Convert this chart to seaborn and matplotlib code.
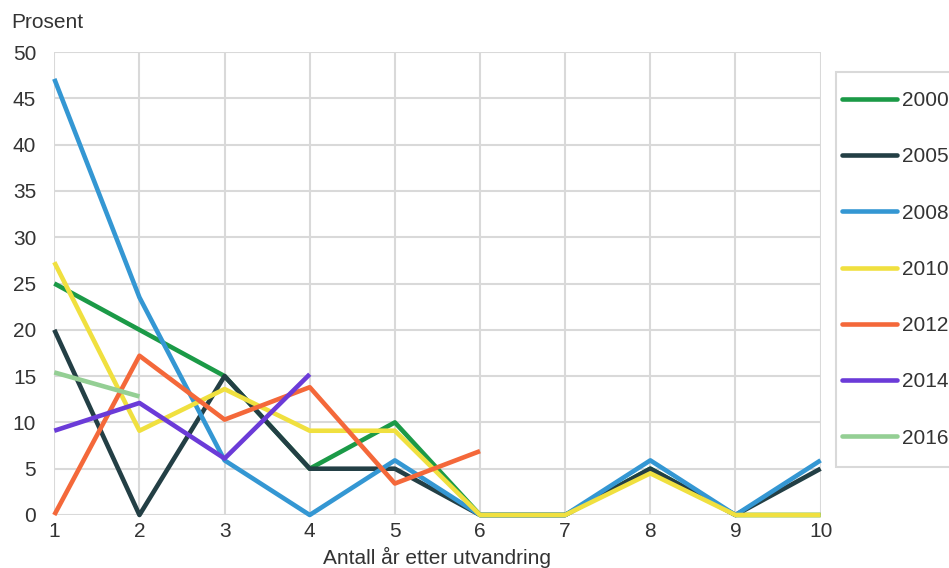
import pandas as pd
import numpy as np
import matplotlib.pyplot as plt
import seaborn as sns
from matplotlib.patches import Rectangle

# Data (percent)
years_after = [1, 2, 3, 4, 5, 6, 7, 8, 9, 10]
cohorts = ['2000', '2005', '2008', '2010', '2012', '2014', '2016']
v2000 = [25.0, 20.0, 15.0, 5.0, 10.0, 0.0, 0.0, 5.0, 0.0, 0.0]
v2005 = [20.0, 0.0, 15.0, 5.0, 5.0, 0.0, 0.0, 5.0, 0.0, 5.0]
v2008 = [47.1, 23.5, 5.9, 0.0, 5.9, 0.0, 0.0, 5.9, 0.0, 5.9]
v2010 = [27.3, 9.1, 13.6, 9.1, 9.1, 0.0, 0.0, 4.5, 0.0, 0.0]
v2012 = [0.0, 17.2, 10.3, 13.8, 3.4, 6.9]
v2014 = [9.1, 12.1, 6.1, 15.2]
v2016 = [15.4, 12.8]
colors = ['#1b9a47', '#233f45', '#3497d3', '#f0e03f', '#f4683a', '#6b3bd8', '#94cf94']

series = [v2000, v2005, v2008, v2010, v2012, v2014, v2016]
rows = []
for name, vals in zip(cohorts, series):
    for x, v in zip(years_after, vals):
        rows.append({'Antall': x, 'Prosent': v, 'Kohort': name})
df = pd.DataFrame(rows)

sns.set_theme(style='white')
plt.rcParams['font.family'] = ['Liberation Sans', 'DejaVu Sans']

fs = 15
W, H = 949, 568
fig = plt.figure(figsize=(W / 100, H / 100), dpi=100)
ax = fig.add_axes([54.3 / W, 1 - 515 / H, (820.6 - 54.3) / W, (515 - 52) / H])

sns.lineplot(data=df, x='Antall', y='Prosent', hue='Kohort', hue_order=cohorts,
             palette=colors, linewidth=3.3, ax=ax, legend=False, clip_on=False,
             solid_capstyle='butt', zorder=3)

ax.set_xlim(1, 10)
ax.set_ylim(0, 50)
ax.set_xticks(years_after)
ax.set_yticks(range(0, 51, 5))
ax.grid(True, color='#d9d9d9', linewidth=1.5)
ax.set_axisbelow(True)
for s in ax.spines.values():
    s.set_visible(False)
ax.tick_params(axis='both', length=0, labelsize=fs, colors='#333333')
ax.tick_params(axis='y', pad=13)
ax.tick_params(axis='x', pad=5)
ax.set_xlabel('Antall år etter utvandring', fontsize=fs, color='#333333', labelpad=4)
ax.set_ylabel('')
fig.text(11 / W, 1 - 22 / H, 'Prosent', fontsize=fs, color='#333333', va='center', ha='left')

# legend frame
fig.patches.append(Rectangle((836 / W, 1 - 467 / H), (960 - 836) / W, (467 - 72) / H,
                             transform=fig.transFigure, facecolor='white',
                             edgecolor='#d9d9d9', linewidth=1.5, zorder=0))
handles = [plt.Line2D([], [], color=c, linewidth=3.3, solid_capstyle='round') for c in colors]
fig.legend(handles, cohorts, loc='upper left', bbox_to_anchor=(842 / W, 1 - 91 / H),
           frameon=False, fontsize=fs, handlelength=2.65, handletextpad=0.22,
           labelspacing=1.79, borderpad=0, borderaxespad=0, labelcolor='#333333')

fig.savefig('out.png', dpi=100)
